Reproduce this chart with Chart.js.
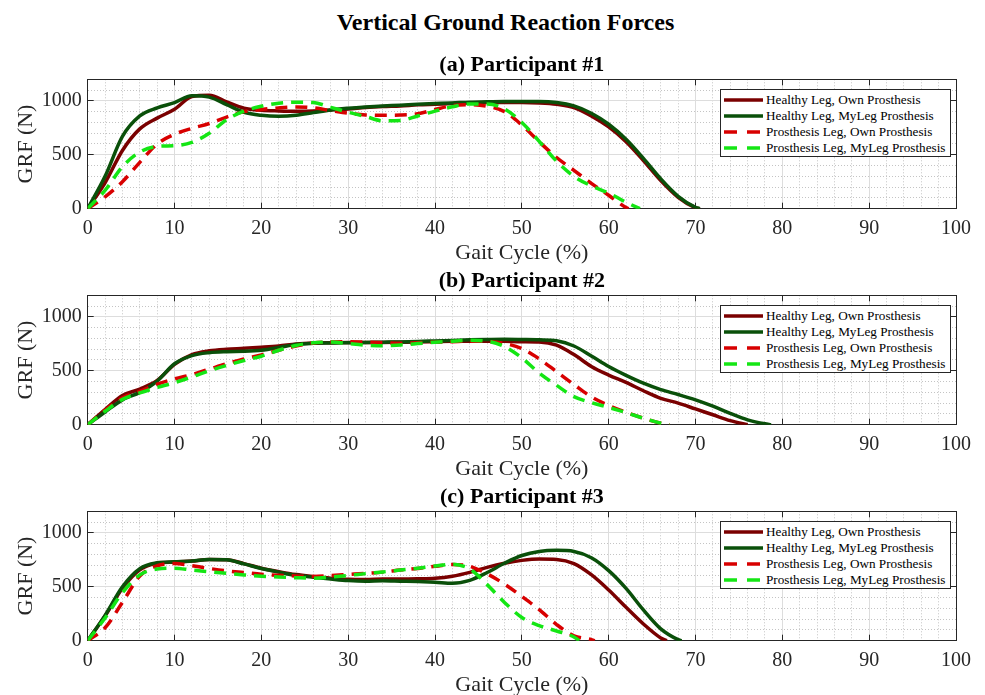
<!DOCTYPE html>
<html>
<head>
<meta charset="utf-8">
<script src="https://cdn.jsdelivr.net/npm/chart.js@4.4.1/dist/chart.umd.min.js"></script>
<style>
  html, body { margin: 0; padding: 0; background: #fff; overflow: hidden; }
  body { width: 985px; height: 695px; position: relative; font-family: "Liberation Serif", "Times New Roman", serif; }
  #title { position: absolute; left: 26px; top: 8px; width: 959px; text-align: center; font-weight: bold; font-size: 24px; line-height: 28px; color: #000; }
  .panel { position: absolute; left: 0; width: 985px; height: 220px; }
  .panel canvas { position: absolute; left: 0; top: 0; }
  .legend { position: absolute; left: 720px; top: 43px; width: 231px; height: 68px; box-sizing: border-box;
            border: 1px solid #262626; background: #fff; padding: 2px 0 0 3px; font-size: 13.2px; color: #000; }
  .legend div { height: 16px; display: flex; align-items: center; white-space: nowrap; }
  .legend svg { margin-right: 3px; flex: none; }
</style>
</head>
<body>
<div id="title">Vertical Ground Reaction Forces</div>

<script>
// gait cycle positions (%) shared by all series, every 2 %
const gaitPct = [0, 2, 4, 6, 8, 10, 12, 14, 16, 18, 20, 22, 24, 26, 28, 30, 32, 34, 36, 38,
                 40, 42, 44, 46, 48, 50, 52, 54, 56, 58, 60, 62, 64, 66, 68, 70, 72, 74, 76, 78, 80];

const seriesNames = ["Healthy Leg, Own Prosthesis", "Healthy Leg, MyLeg Prosthesis",
                     "Prosthesis Leg, Own Prosthesis", "Prosthesis Leg, MyLeg Prosthesis"];
const seriesColors = ["#7a0000", "#0a500a", "#d80000", "#14e614"];
const seriesDashed = [false, false, true, true];

const panelTitles = ["(a) Participant #1", "(b) Participant #2", "(c) Participant #3"];
const xTicks = [0, 10, 20, 30, 40, 50, 60, 70, 80, 90, 100];
const yTicks = [0, 500, 1000];

// GRF (N) values, participant 1
const p1HealthyOwn = [0, 240, 540, 740, 840, 922, 1040, 1052, 990, 932, 913, 907, 904, 907, 916, 925, 938, 947,
                      953, 963, 969, 975, 981, 984, 984, 984, 981, 969, 938, 860, 758, 621, 447, 261, 106, 9];
const p1HealthyMyLeg = [0, 300, 670, 860, 935, 984, 1048, 1035, 965, 894, 866, 857, 866, 891, 916, 932, 944, 953,
                        960, 969, 975, 981, 988, 991, 994, 994, 994, 985, 953, 885, 783, 643, 466, 276, 115, 12];
const p1ProsthOwn = [0, 110, 250, 430, 600, 690, 745, 790, 850, 900, 920, 935, 943, 935, 910, 885,
                     870, 866, 868, 880, 920, 955, 965, 950, 900, 775, 620, 475, 355, 235, 125, 10];
const p1ProsthMyLeg = [0, 170, 390, 525, 578, 585, 615, 700, 825, 905, 950, 978, 988, 984, 940, 895,
                       855, 815, 818, 860, 905, 945, 972, 972, 925, 800, 625, 440, 300, 212, 145, 60];
const p1End = [70.5, 70.5, 62.3, 63.6];

// participant 2
const p2HealthyOwn = [0, 140, 270, 330, 410, 560, 650, 685, 700, 708, 718, 730, 748, 757, 760, 762, 762, 763, 765,
                      767, 770, 773, 775, 775, 773, 770, 768, 738, 650, 540, 460, 392, 315, 245, 200, 146, 92, 38];
const p2HealthyMyLeg = [0, 118, 230, 300, 405, 565, 640, 668, 677, 680, 690, 715, 745, 755, 758, 760, 762, 765, 768, 772,
                        777, 782, 787, 790, 792, 790, 787, 778, 730, 638, 540, 458, 385, 325, 280, 231, 172, 105, 45, 8];
const p2ProsthOwn = [0, 135, 250, 310, 375, 425, 465, 515, 565, 610, 648, 690, 730, 758, 768, 770, 765,
                     760, 755, 760, 765, 770, 775, 772, 755, 705, 610, 492, 372, 258, 178, 115, 60, 14];
const p2ProsthMyLeg = [0, 125, 235, 295, 345, 390, 443, 500, 550, 595, 635, 690, 735, 760, 767, 752, 738,
                       732, 740, 752, 765, 775, 782, 775, 725, 620, 478, 365, 260, 205, 160, 112, 60, 14];
const p2End = [76, 78.7, 67, 67];

// participant 3
const p3HealthyOwn = [0, 230, 486, 657, 718, 728, 738, 752, 750, 715, 672, 640, 613, 595, 580, 570, 568,
                      572, 572, 574, 579, 598, 634, 680, 718, 745, 758, 754, 715, 612, 470, 310, 155, 25];
const p3HealthyMyLeg = [0, 235, 500, 668, 722, 732, 740, 754, 750, 712, 670, 636, 606, 588, 572, 558, 552, 556,
                        552, 548, 542, 533, 560, 632, 718, 790, 828, 838, 828, 770, 650, 485, 285, 110, 10];
const p3ProsthOwn = [0, 120, 355, 600, 695, 717, 695, 670, 648, 632, 616, 606, 600, 596, 605,
                     615, 625, 636, 655, 670, 690, 706, 690, 620, 525, 410, 288, 150, 45, 10];
const p3ProsthMyLeg = [0, 210, 445, 610, 665, 673, 655, 640, 625, 610, 598, 590, 584, 580, 590,
                       605, 622, 638, 655, 672, 692, 710, 665, 520, 355, 215, 140, 90, 35];
const p3End = [66.7, 68.4, 58.4, 56.6];

const panelSeries = [
  [p1HealthyOwn, p1HealthyMyLeg, p1ProsthOwn, p1ProsthMyLeg],
  [p2HealthyOwn, p2HealthyMyLeg, p2ProsthOwn, p2ProsthMyLeg],
  [p3HealthyOwn, p3HealthyMyLeg, p3ProsthOwn, p3ProsthMyLeg]
];
const panelEnds = [p1End, p2End, p3End];
const panelTops = [46, 262, 478];

const FONT = "'Liberation Serif', 'Times New Roman', serif";
const AXIS = "#262626";
const charts = [];

function toPoints(ys, end) {
  const pts = ys.map((y, i) => ({ x: gaitPct[i], y: y }));
  pts.push({ x: end, y: 0 });
  return pts;
}

function legendHtml() {
  let html = "";
  seriesNames.forEach((name, i) => {
    const dash = seriesDashed[i] ? ' stroke-dasharray="13 10"' : "";
    html += '<div><svg width="39" height="16"><line x1="0" y1="8" x2="39" y2="8" stroke="' + seriesColors[i] +
            '" stroke-width="3.4"' + dash + '/></svg>' + name + '</div>';
  });
  return html;
}

function plainLabel(v) { return String(v); }

panelTitles.forEach((title, p) => {
  const panel = document.createElement("div");
  panel.className = "panel";
  panel.style.top = panelTops[p] + "px";
  const canvas = document.createElement("canvas");
  canvas.width = 985;
  canvas.height = 220;
  panel.appendChild(canvas);
  const legend = document.createElement("div");
  legend.className = "legend";
  legend.innerHTML = legendHtml();
  panel.appendChild(legend);
  document.body.appendChild(panel);

  const datasets = panelSeries[p].map((ys, i) => ({
    label: seriesNames[i],
    data: toPoints(ys, panelEnds[p][i]),
    borderColor: seriesColors[i],
    borderWidth: 3.5,
    borderDash: seriesDashed[i] ? [12, 8] : [],
    pointRadius: 0,
    fill: false,
    cubicInterpolationMode: "monotone",
    order: 3 - i
  }));

  charts.push(new Chart(canvas, {
    type: "line",
    data: { datasets: datasets },
    options: {
      responsive: false,
      animation: false,
      devicePixelRatio: 1,
      layout: { padding: { left: 0, right: 23, top: 0, bottom: 0 } },
      plugins: {
        legend: { display: false },
        tooltip: { enabled: false },
        title: {
          display: true,
          text: title,
          fullSize: false,
          color: "#000",
          font: { family: FONT, size: 22, weight: "bold" },
          padding: { top: 5.8, bottom: 1.1 }
        }
      },
      scales: {
        xMinor: {
          type: "linear", position: "bottom", min: 0, max: 100,
          ticks: { display: false, stepSize: 2 },
          grid: { color: "#c4c4c4", drawTicks: false },
          border: { display: false, dash: [1, 2] },
          afterFit: s => { s.height = 0; }
        },
        yMinor: {
          type: "linear", position: "left", min: 0, max: 1200,
          ticks: { display: false, stepSize: 100 },
          grid: { color: "#c4c4c4", drawTicks: false },
          border: { display: false, dash: [1, 2] },
          afterFit: s => { s.width = 0; }
        },
        x: {
          type: "linear", position: "bottom", min: 0, max: 100,
          afterBuildTicks: s => { s.ticks = xTicks.map(v => ({ value: v })); },
          ticks: { padding: 14, color: AXIS, font: { family: FONT, size: 20 }, maxRotation: 0, autoSkip: false, callback: plainLabel },
          grid: { color: "#dddddd", drawTicks: true, tickLength: -6, tickColor: AXIS },
          border: { display: true, color: AXIS, width: 1 },
          title: { display: true, text: "Gait Cycle (%)", color: AXIS, font: { family: FONT, size: 22 }, padding: 0 },
          afterFit: s => { s.height = 57.3; }
        },
        y: {
          type: "linear", position: "left", min: 0, max: 1200,
          afterBuildTicks: s => { s.ticks = yTicks.map(v => ({ value: v })); },
          ticks: { padding: 12, color: AXIS, font: { family: FONT, size: 20 }, callback: plainLabel },
          grid: { color: "#dddddd", drawTicks: true, tickLength: -6, tickColor: AXIS },
          border: { display: true, color: AXIS, width: 1 },
          title: { display: true, text: "GRF (N)", color: AXIS, font: { family: FONT, size: 22 }, padding: { top: 12.8, bottom: 0 } },
          afterFit: s => { s.width = 87.7; }
        },
        xTop: {
          type: "linear", position: "top", min: 0, max: 100,
          afterBuildTicks: s => { s.ticks = xTicks.map(v => ({ value: v })); },
          ticks: { display: false },
          grid: { drawOnChartArea: false, drawTicks: true, tickLength: -6, tickColor: AXIS },
          border: { display: true, color: AXIS, width: 1 },
          afterFit: s => { s.height = 0; }
        },
        yRight: {
          type: "linear", position: "right", min: 0, max: 1200,
          afterBuildTicks: s => { s.ticks = yTicks.map(v => ({ value: v })); },
          ticks: { display: false },
          grid: { drawOnChartArea: false, drawTicks: true, tickLength: -6, tickColor: AXIS },
          border: { display: true, color: AXIS, width: 1 },
          afterFit: s => { s.width = 0; }
        }
      }
    }
  }));
});

if (document.fonts) {
  document.fonts.ready.then(() => charts.forEach(c => c.update()));
}
</script>
</body>
</html>
